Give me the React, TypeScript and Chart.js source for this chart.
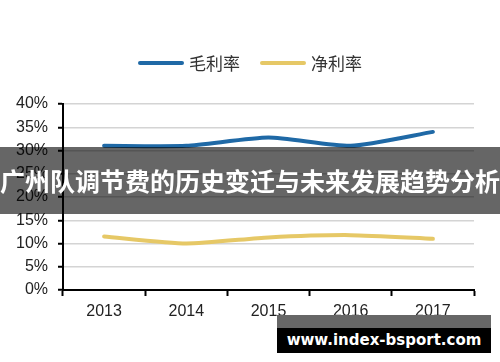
import React, { useEffect, useRef } from "react";
import { Chart, registerables } from "chart.js";

Chart.register(...registerables);

const years = ["2013", "2014", "2015", "2016", "2017"];
const grossMargin = [31, 31, 32.8, 31, 34];
const netMargin = [11.5, 10, 11.3, 11.8, 11];
const seriesNames = ["毛利率", "净利率"];
const seriesColors = ["#1f69a6", "#e6c866"];
const yMin = 0;
const yMax = 40;
const yStep = 5;
const bannerTitle = "广州队调节费的历史变迁与未来发展趋势分析";
const watermark = "www.index-bsport.com";

const legendPlugin = {
  id: "customLegend",
  afterDraw(chart: any) {
    const ctx = chart.ctx;
    const ds = chart.data.datasets;
    const lineLen = 46;
    const gap = 5;
    const spacing = 20;
    ctx.save();
    ctx.font = "17px 'Noto Sans CJK SC'";
    const widths = ds.map((d: any) => lineLen + gap + ctx.measureText(d.label).width);
    const total = widths.reduce((a: number, b: number) => a + b, 0) + spacing * (ds.length - 1);
    let x = (chart.width - total) / 2;
    const y = 63;
    ds.forEach((d: any, i: number) => {
      ctx.beginPath();
      ctx.strokeStyle = d.borderColor;
      ctx.lineWidth = 4;
      ctx.lineCap = "round";
      ctx.moveTo(x + 2, y);
      ctx.lineTo(x + lineLen - 2, y);
      ctx.stroke();
      ctx.fillStyle = "#333";
      ctx.textBaseline = "middle";
      ctx.textAlign = "left";
      ctx.fillText(d.label, x + lineLen + gap, y + 1);
      x += widths[i] + spacing;
    });
    ctx.restore();
  },
};

export default function App() {
  const ref = useRef<HTMLCanvasElement | null>(null);
  useEffect(() => {
    if (!ref.current) return;
    const chart = new Chart(ref.current, {
      type: "line",
      data: {
        labels: years,
        datasets: [
          {
            label: seriesNames[0],
            data: grossMargin,
            borderColor: seriesColors[0],
            backgroundColor: seriesColors[0],
            borderWidth: 4,
            pointRadius: 0,
            tension: 0.2,
            borderCapStyle: "round",
            borderJoinStyle: "round",
          },
          {
            label: seriesNames[1],
            data: netMargin,
            borderColor: seriesColors[1],
            backgroundColor: seriesColors[1],
            borderWidth: 4,
            pointRadius: 0,
            tension: 0.2,
            borderCapStyle: "round",
            borderJoinStyle: "round",
          },
        ],
      },
      options: {
        responsive: false,
        maintainAspectRatio: false,
        animation: false,
        layout: { padding: { top: 104, right: 26, left: 0, bottom: 0 } },
        plugins: {
          legend: { display: false },
          tooltip: { enabled: false },
        },
        scales: {
          x: {
            offset: true,
            grid: {
              offset: true,
              drawOnChartArea: false,
              drawTicks: true,
              tickLength: 6,
              tickColor: "#000",
              tickWidth: 2,
            },
            border: { color: "#000", width: 2 },
            ticks: {
              color: "#222",
              font: { family: "'Liberation Sans', Arial", size: 16 },
              padding: 6,
              maxRotation: 0,
            },
            afterFit(scale: any) {
              scale.height = 72;
            },
          },
          y: {
            min: yMin,
            max: yMax,
            grid: {
              color: "#d4d4d4",
              lineWidth: 1.5,
              tickColor: "#000",
              tickLength: 5,
              tickWidth: 2,
            },
            border: { color: "#000", width: 2 },
            ticks: {
              stepSize: yStep,
              color: "#222",
              font: { family: "'Liberation Sans', Arial", size: 16 },
              padding: 10,
              callback: (v: any) => v + "%",
            },
            afterFit(scale: any) {
              scale.width = 63;
            },
          },
        },
      },
      plugins: [legendPlugin],
    });
    return () => chart.destroy();
  }, []);

  return (
    <div style={{ position: "fixed", left: 0, top: 0, width: 500, height: 362, background: "#fff", overflow: "hidden" }}>
      <canvas ref={ref} width={500} height={362} style={{ display: "block" }} />
      <div
        style={{
          position: "absolute",
          left: 0,
          top: 147,
          width: 500,
          height: 67,
          background: "rgba(0,0,0,0.6)",
          color: "#fff",
          fontFamily: "'Noto Sans CJK SC'",
          fontWeight: 700,
          fontSize: 25,
          lineHeight: "67px",
          textAlign: "center",
          whiteSpace: "nowrap",
        }}
      >
        {bannerTitle}
      </div>
      <div
        style={{
          position: "absolute",
          left: 277,
          top: 315,
          width: 214,
          height: 38,
          background: "#000",
        }}
      >
        <div style={{ position: "absolute", left: 0, top: 0, width: 214, height: 13, background: "#666" }} />
        <div
          style={{
            position: "absolute",
            left: 0,
            top: 13,
            width: 214,
            height: 25,
            lineHeight: "25px",
            textAlign: "center",
            color: "#fff",
            fontFamily: "'DejaVu Sans'",
            fontWeight: 700,
            fontSize: 15,
            whiteSpace: "nowrap",
          }}
        >
          {watermark}
        </div>
      </div>
    </div>
  );
}
